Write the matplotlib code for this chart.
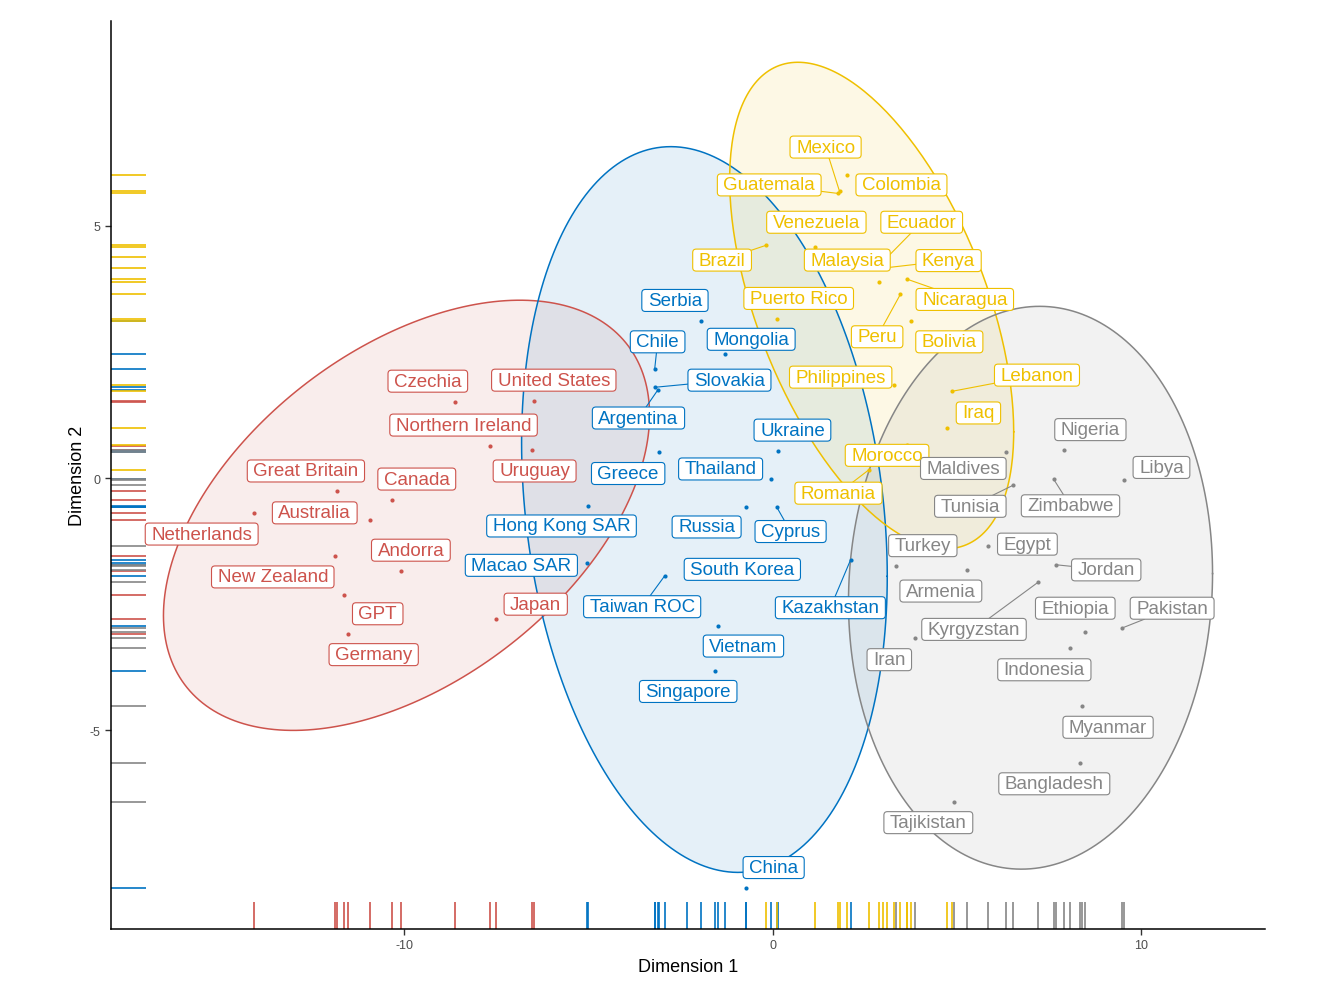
import numpy as np
import matplotlib
matplotlib.use("Agg")
import matplotlib.pyplot as plt
import matplotlib.transforms as mtransforms
from matplotlib.patches import FancyBboxPatch

plt.rcParams['font.family'] = ['Liberation Sans', 'DejaVu Sans']
plt.rcParams['axes.unicode_minus'] = False

# ggsci "jco" colours, one per cluster
RED, BLUE, YELLOW, GREY = "#CD534C", "#0073C2", "#EFC000", "#868686"

# --- cluster 1 (red)
red_names = ["Czechia", "United States", "Northern Ireland", "Uruguay", "Great Britain",
             "Canada", "Netherlands", "Australia", "New Zealand", "Andorra", "GPT",
             "Germany", "Japan"]
red_x = [-8.63, -6.49, -7.68, -6.54, -11.83, -10.34, -14.08, -10.94, -11.89, -10.09,
         -11.64, -11.53, -7.52]
red_y = [1.50, 1.52, 0.63, 0.55, -0.26, -0.44, -0.69, -0.83, -1.54, -1.84, -2.32,
         -3.09, -2.79]

# --- cluster 2 (blue)
blue_names = ["Serbia", "Mongolia", "Chile", "Slovakia", "Argentina", "Ukraine", "Greece",
              "Thailand", "Hong Kong SAR", "Russia", "Cyprus", "Macao SAR", "South Korea",
              "Taiwan ROC", "Kazakhstan", "Vietnam", "Singapore", "China"]
blue_x = [-1.93, -1.30, -3.20, -3.18, -3.12, 0.14, -3.07, -0.03, -5.02, -0.73, 0.11,
          -5.05, -2.33, -2.93, 2.12, -1.49, -1.57, -0.71]
blue_y = [3.11, 2.46, 2.16, 1.80, 1.74, 0.53, 0.51, -0.02, -0.55, -0.57, -0.57, -1.68,
          -1.72, -1.94, -1.62, -2.93, -3.82, -8.12]

# --- cluster 3 (yellow)
yellow_names = ["Mexico", "Guatemala", "Colombia", "Venezuela", "Brazil", "Ecuador", "Kenya",
                "Malaysia", "Nicaragua", "Peru", "Puerto Rico", "Bolivia", "Philippines",
                "Lebanon", "Iraq", "Morocco", "Romania"]
yellow_x = [1.82, 1.79, 2.01, 1.14, -0.19, 3.12, 2.99, 2.88, 3.66, 3.47, 0.11, 3.77, 3.31,
            4.88, 4.75, 3.64, 2.61]
yellow_y = [5.68, 5.64, 6.00, 4.57, 4.61, 4.38, 4.16, 3.88, 3.94, 3.64, 3.15, 3.11, 1.84,
            1.72, 0.99, 0.65, 0.16]

# --- cluster 4 (grey)
grey_names = ["Maldives", "Nigeria", "Tunisia", "Zimbabwe", "Libya", "Egypt", "Turkey",
              "Armenia", "Jordan", "Kyrgyzstan", "Iran", "Pakistan", "Ethiopia", "Indonesia",
              "Myanmar", "Bangladesh", "Tajikistan"]
grey_x = [6.35, 7.92, 6.54, 7.63, 9.53, 5.86, 3.36, 5.29, 7.71, 7.22, 3.88, 9.50, 8.49,
          8.09, 8.41, 8.36, 4.94]
grey_y = [0.51, 0.55, -0.14, -0.02, -0.04, -1.35, -1.74, -1.82, -1.72, -2.06, -3.17, -2.97,
          -3.05, -3.37, -4.51, -5.64, -6.42]

# repelled label placements (data units), same order as the names
red_lab_x = [-9.36, -5.94, -8.39, -6.46, -12.67, -9.66, -15.50, -12.43, -13.57, -9.82,
             -10.72, -10.83, -6.43]
red_lab_y = [1.92, 1.94, 1.05, 0.14, 0.14, -0.02, -1.11, -0.69, -1.96, -1.43, -2.69,
             -3.50, -2.50]
blue_lab_x = [-2.65, -0.58, -3.12, -1.17, -3.64, 0.54, -3.92, -1.41, -5.73, -1.79, 0.49,
              -6.82, -0.82, -3.54, 1.57, -0.79, -2.29, 0.03]
blue_lab_y = [3.52, 2.75, 2.70, 1.94, 1.19, 0.95, 0.09, 0.18, -0.95, -0.97, -1.06, -1.73,
              -1.81, -2.55, -2.57, -3.33, -4.23, -7.72]
yellow_lab_x = [1.44, -0.09, 3.50, 1.19, -1.37, 4.05, 4.78, 2.03, 5.22, 2.84, 0.71, 4.80,
                1.85, 7.18, 5.59, 3.11, 1.79]
yellow_lab_y = [6.56, 5.81, 5.81, 5.07, 4.32, 5.07, 4.31, 4.32, 3.54, 2.80, 3.56, 2.70,
                2.00, 2.04, 1.29, 0.45, -0.30]
grey_lab_x = [5.18, 8.63, 5.37, 8.09, 10.56, 6.92, 4.08, 4.57, 9.06, 5.47, 3.17, 10.85,
              8.22, 7.38, 9.11, 7.65, 4.23]
grey_lab_y = [0.19, 0.96, -0.56, -0.55, 0.21, -1.31, -1.34, -2.24, -1.82, -3.00, -3.60,
              -2.58, -2.58, -3.80, -4.94, -6.06, -6.83]

# labels far enough from their point to get a leader line
leader_names = {"Chile", "Slovakia", "Argentina", "Cyprus", "Taiwan ROC", "Kazakhstan",
                "Mexico", "Guatemala", "Brazil", "Ecuador", "Kenya", "Peru", "Nicaragua",
                "Lebanon", "Romania", "Zimbabwe", "Jordan", "Kyrgyzstan", "Pakistan",
                "Tunisia"}

clusters = [
    (RED, red_names, red_x, red_y, red_lab_x, red_lab_y),
    (BLUE, blue_names, blue_x, blue_y, blue_lab_x, blue_lab_y),
    (YELLOW, yellow_names, yellow_x, yellow_y, yellow_lab_x, yellow_lab_y),
    (GREY, grey_names, grey_x, grey_y, grey_lab_x, grey_lab_y),
]


def ellipse(x, y, level=0.95, segments=240):
    # same maths as stat_ellipse(type = "norm")
    xy = np.column_stack([x, y])
    center = xy.mean(axis=0)
    shape = np.cov(xy.T)
    dfd = len(x) - 1
    f = dfd / 2 * ((1 - level) ** (-2 / dfd) - 1)   # qf(level, 2, dfd)
    radius = np.sqrt(2 * f)
    ang = np.linspace(0, 2 * np.pi, segments + 1)
    circle = np.column_stack([np.cos(ang), np.sin(ang)])
    L = np.linalg.cholesky(shape)
    return center + radius * circle @ L.T


fig = plt.figure(figsize=(13.22, 10.04), dpi=100)
ax = fig.add_axes([111 / 1322, 74 / 1004, 1154 / 1322, 908 / 1004])

all_x, all_y = [], []
for col, names, xs, ys, lx, ly in clusters:
    e = ellipse(xs, ys)
    ax.fill(e[:, 0], e[:, 1], color=col, alpha=0.1, lw=0, zorder=1)
    ax.plot(e[:, 0], e[:, 1], color=col, lw=1.1, zorder=2)
    all_x += list(e[:, 0]) + list(xs)
    all_y += list(e[:, 1]) + list(ys)

# ggplot style 5% expansion
x0, x1 = min(all_x), max(all_x)
y0, y1 = min(all_y), max(all_y)
ax.set_xlim(x0 - 0.05 * (x1 - x0), x1 + 0.05 * (x1 - x0))
ax.set_ylim(y0 - 0.05 * (y1 - y0), y1 + 0.05 * (y1 - y0))

for col, names, xs, ys, lx, ly in clusters:
    ax.vlines(xs, 0, 0.03, transform=ax.get_xaxis_transform(), color=col, lw=1.2, zorder=2)
    ax.hlines(ys, 0, 0.03, transform=ax.get_yaxis_transform(), color=col, lw=1.2, zorder=2)
    ax.scatter(xs, ys, s=9, color=col, lw=0, zorder=3)

texts = []
for col, names, xs, ys, lx, ly in clusters:
    for name, px, py, tx, ty in zip(names, xs, ys, lx, ly):
        t = ax.text(tx, ty, name, color=col, fontsize=13.5, ha="center", va="center",
                    zorder=7)
        texts.append((t, name, col, px, py))

ax.set_xticks([-10, 0, 10])
ax.set_yticks([-5, 0, 5])
ax.tick_params(length=4, width=1.0, color="#333333", labelcolor="#4D4D4D", labelsize=9)
for s in ["top", "right"]:
    ax.spines[s].set_visible(False)
for s in ["left", "bottom"]:
    ax.spines[s].set_linewidth(1.1)
ax.set_xlabel("Dimension 1", fontsize=13, labelpad=5)
ax.set_ylabel("Dimension 2", fontsize=13, labelpad=3)

# label boxes and leader segments, worked out in pixels
fig.canvas.draw()
renderer = fig.canvas.get_renderer()
inv = ax.transData.inverted()
hpad, vpad = 6, 2.5
for t, name, col, px, py in texts:
    bb = t.get_window_extent(renderer)
    bx0, by0 = bb.x0 - hpad, bb.y0 - vpad
    bx1, by1 = bb.x1 + hpad, bb.y1 + vpad
    box = FancyBboxPatch((bx0, by0), bx1 - bx0, by1 - by0,
                         boxstyle="round,pad=0,rounding_size=3.5",
                         transform=mtransforms.IdentityTransform(),
                         facecolor="white", edgecolor=col, lw=0.8, zorder=6)
    ax.add_patch(box)
    if name not in leader_names:
        continue
    # segment from point towards the label centre, stopped at the box edge
    qx, qy = ax.transData.transform((px, py))
    cx, cy = (bx0 + bx1) / 2, (by0 + by1) / 2
    dx, dy = cx - qx, cy - qy
    if bx0 <= qx <= bx1 and by0 <= qy <= by1:
        continue
    ts = []
    if dx != 0:
        ts += [(bx0 - qx) / dx, (bx1 - qx) / dx]
    if dy != 0:
        ts += [(by0 - qy) / dy, (by1 - qy) / dy]
    tt = min(v for v in ts if 0 < v <= 1 and
             bx0 - 0.01 <= qx + v * dx <= bx1 + 0.01 and by0 - 0.01 <= qy + v * dy <= by1 + 0.01)
    (sx, sy), (ex, ey) = inv.transform([(qx, qy), (qx + tt * dx, qy + tt * dy)])
    ax.plot([sx, ex], [sy, ey], color=col, lw=0.8, zorder=4)

fig.savefig("out.png", dpi=100)
